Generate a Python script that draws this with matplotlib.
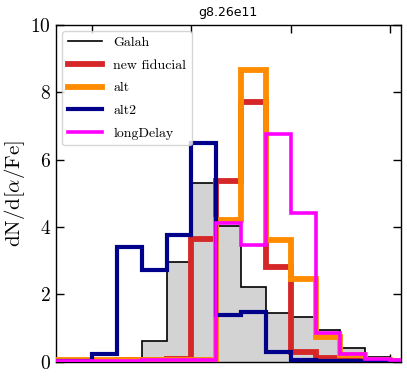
import numpy as np
import matplotlib
matplotlib.use("Agg")
import matplotlib.pyplot as plt

plt.rcParams['font.family'] = 'serif'
plt.rcParams['font.serif'] = ['cmr10', 'DejaVu Serif']
plt.rcParams['mathtext.fontset'] = 'cm'
plt.rcParams['axes.formatter.use_mathtext'] = True

# bin edges in [alpha/Fe]
edges = np.arange(-0.05, 0.3251, 0.025)

galah = [0.0, 0.0, 0.03, 0.13, 0.62, 2.95, 5.29, 4.03, 2.23, 1.44, 1.32, 0.95, 0.42, 0.16, 0.04]
new_fiducial = [0.03, 0.03, 0.04, 0.05, 0.06, 0.08, 3.63, 5.36, 7.71, 2.80, 0.31, 0.12, 0.05, 0.02, 0.01]
alt = [0.05, 0.05, 0.05, 0.05, 0.05, 0.05, 0.05, 4.21, 8.65, 3.61, 2.45, 0.75, 0.20, 0.05, 0.03]
alt2 = [0.02, 0.02, 0.24, 3.40, 2.73, 3.76, 6.50, 1.39, 1.49, 0.29, 0.05, 0.03, 0.03, 0.03, 0.03]
long_delay = [0.03, 0.03, 0.03, 0.04, 0.05, 0.05, 0.06, 4.11, 3.47, 6.75, 4.42, 0.87, 0.24, 0.08, 0.05]

xticks = [0.0, 0.1, 0.2, 0.3]
yticks = [0, 2, 4, 6, 8, 10]

fig = plt.figure(figsize=(4.07, 3.79), dpi=100)
ax = fig.add_axes([0.137, 0.0449, 0.848, 0.8904])

ax.stairs(galah, edges, fill=True, color='lightgrey', zorder=1)
ax.stairs(galah, edges, color='black', linewidth=1.2, label='Galah', zorder=2)
ax.stairs(new_fiducial, edges, color='#d62728', linewidth=4.2, label='new fiducial', zorder=3)
ax.stairs(alt, edges, color='#ff8c00', linewidth=4.2, label='alt', zorder=4)
ax.stairs(alt2, edges, color='#00008b', linewidth=3.0, label='alt2', zorder=5)
ax.stairs(long_delay, edges, color='#ff00ff', linewidth=2.6, label='longDelay', zorder=6)

ax.set_xlim(-0.0366, 0.311)
ax.set_ylim(0, 10)
ax.set_xticks(xticks)
ax.set_xticklabels([])
ax.set_yticks(yticks)
ax.tick_params(direction='in', top=True, right=True, length=5.5, width=1.0, labelsize=14)
for s in ax.spines.values():
    s.set_linewidth(1.0)

ax.set_ylabel(r'$\mathrm{dN/d[\alpha/Fe]}$', fontsize=15, labelpad=2)
ax.set_title('g8.26e11', fontsize=9, fontfamily='DejaVu Sans', pad=6)

leg = ax.legend(loc='upper left', fontsize=10, handlelength=2.5, labelspacing=0.72,
                frameon=True, fancybox=True, borderaxespad=0.45)
leg.get_frame().set_edgecolor('#cccccc')

fig.savefig('out.png', dpi=100)
